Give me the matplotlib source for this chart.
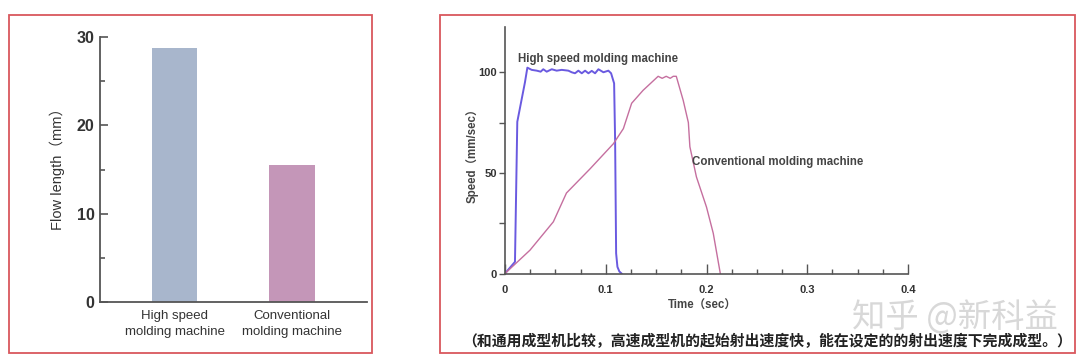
import numpy as np
import matplotlib
matplotlib.use('Agg')
from matplotlib import pyplot as plt
from matplotlib.patches import Rectangle
from matplotlib.ticker import MultipleLocator, FormatStrFormatter

plt.rcParams['font.family'] = ['Liberation Sans', 'Noto Sans CJK SC', 'DejaVu Sans']

# left chart: flow length
bar_names = ['High speed\nmolding machine', 'Conventional\nmolding machine']
flow_length = [28.8, 15.5]
bar_colors = ['#a8b6cc', '#c496b8']

# right chart: injection speed vs time
hs_t = [0, 0.0099, 0.0122, 0.0198, 0.0222, 0.0265, 0.0315, 0.0354, 0.038, 0.0414,
        0.0464, 0.0513, 0.0563, 0.0629, 0.0662, 0.0695, 0.0728, 0.0762, 0.0795,
        0.0828, 0.0861, 0.0894, 0.0927, 0.0977, 0.1026, 0.1053, 0.1083, 0.1093,
        0.1103, 0.1116, 0.1135, 0.1157]
hs_v = [0, 5.8, 75.4, 95, 102.3, 101.2, 100.8, 100.3, 101.5, 100.3,
        101.5, 100.8, 101.2, 100.8, 100, 99.5, 100.8, 99.5, 100.8,
        99.5, 100.7, 99.5, 101.5, 100, 100.8, 99.5, 94.5, 66,
        10, 3.3, 1, 0]
cv_t = [0, 0.0248, 0.048, 0.051, 0.061, 0.0844, 0.1076, 0.1175, 0.1257, 0.137,
        0.152, 0.156, 0.160, 0.164, 0.167, 0.170, 0.1769, 0.182, 0.1835, 0.190,
        0.200, 0.2067, 0.2137]
cv_v = [0, 11.6, 25.7, 29, 40, 52, 64.5, 72, 84.6, 91,
        98, 97, 98, 97, 98, 98, 86, 75, 63, 48,
        33, 20, 0]

caption = '（和通用成型机比较，高速成型机的起始射出速度快，能在设定的的射出速度下完成成型。）'

W, H = 1080, 361
fig = plt.figure(figsize=(W/100, H/100), dpi=100)

def fx(px):
    return px / W

def fy(py):
    return 1 - py / H

# red frames
for x0, x1 in [(9, 372), (440, 1075)]:
    fig.patches.append(Rectangle((fx(x0), fy(352.5)), fx(x1 - x0), (352.5 - 15) / H,
                                 transform=fig.transFigure, fill=False,
                                 edgecolor='#d9575d', linewidth=1.3))

grey = '#555555'
txt = '#333333'

# ---- left bar chart
ax1 = fig.add_axes([fx(100), fy(302), fx(267), 265 / H])
ax1.bar([0, 1], flow_length, width=0.385, color=bar_colors)
ax1.set_xlim(-0.634, 1.638)
ax1.set_ylim(0, 30)
ax1.set_xticks([0, 1])
ax1.set_xticklabels(bar_names, fontsize=9.5, color=txt, linespacing=1.4)
ax1.tick_params(axis='x', length=0, pad=6)
ax1.yaxis.set_major_locator(MultipleLocator(10))
ax1.yaxis.set_minor_locator(MultipleLocator(5))
ax1.tick_params(axis='y', which='major', direction='in', length=6, width=1.2,
                color=grey, labelsize=11.5, labelcolor=txt, pad=4)
ax1.tick_params(axis='y', which='minor', direction='in', length=3.5, width=1.2, color=grey)
for lab in ax1.get_yticklabels():
    lab.set_fontweight('bold')
for s in ['top', 'right']:
    ax1.spines[s].set_visible(False)
for s in ['left', 'bottom']:
    ax1.spines[s].set_color(grey)
    ax1.spines[s].set_linewidth(1.3)
fig.text(fx(57), fy(165), 'Flow length（mm）', rotation=90, ha='center', va='center',
         fontsize=10.5, color=txt)

# ---- right line chart
ax2 = fig.add_axes([fx(505), fy(273.5), fx(403), 246.5 / H])
ax2.plot(hs_t, hs_v, color='#6a5ae0', linewidth=1.4)
ax2.plot(cv_t, cv_v, color='#c56f9f', linewidth=1.0)
ax2.set_xlim(0, 0.4)
ax2.set_ylim(0, 122.5)
ax2.xaxis.set_major_locator(MultipleLocator(0.1))
ax2.xaxis.set_minor_locator(MultipleLocator(0.025))
ax2.xaxis.set_major_formatter(FormatStrFormatter('%g'))
ax2.yaxis.set_major_locator(MultipleLocator(50))
ax2.yaxis.set_minor_locator(MultipleLocator(25))
ax2.tick_params(axis='x', which='major', direction='in', length=7, width=1,
                color=grey, labelsize=8, labelcolor=txt, pad=8)
ax2.tick_params(axis='x', which='minor', direction='in', length=3.5, width=1, color=grey)
ax2.tick_params(axis='y', which='both', direction='out', length=4, width=1,
                color=grey, labelsize=8, labelcolor=txt, pad=2)
for lab in ax2.get_xticklabels() + ax2.get_yticklabels():
    lab.set_fontweight('bold')
for s in ['top', 'right']:
    ax2.spines[s].set_visible(False)
for s in ['left', 'bottom']:
    ax2.spines[s].set_color(grey)
    ax2.spines[s].set_linewidth(1.2)

ax2.text(0.0125, 106.5, 'High speed molding machine', fontsize=8.3, color='#444444',
         fontweight='bold', ha='left', va='center')
ax2.text(0.1855, 55.5, 'Conventional molding machine', fontsize=8.3, color='#444444',
         fontweight='bold', ha='left', va='center')

fig.text(fx(472), fy(153), 'Speed（mm/sec）', rotation=90, ha='center', va='center',
         fontsize=8.3, color='#444444', fontweight='bold')
fig.text(fx(702), fy(306), 'Time（sec）', ha='center', va='center',
         fontsize=8.3, color='#444444', fontweight='bold')

# watermark and caption
fig.text(fx(955), fy(318), '知乎 @新科益', ha='center', va='center', fontsize=24,
         color='#d8d8d8', family=['Noto Sans CJK SC', 'DejaVu Sans'])
fig.text(fx(767), fy(341), caption, ha='center', va='center', fontsize=10.7,
         color='#222222', fontweight='bold', family=['Noto Sans CJK SC', 'DejaVu Sans'])

fig.savefig('out.png', dpi=100)
